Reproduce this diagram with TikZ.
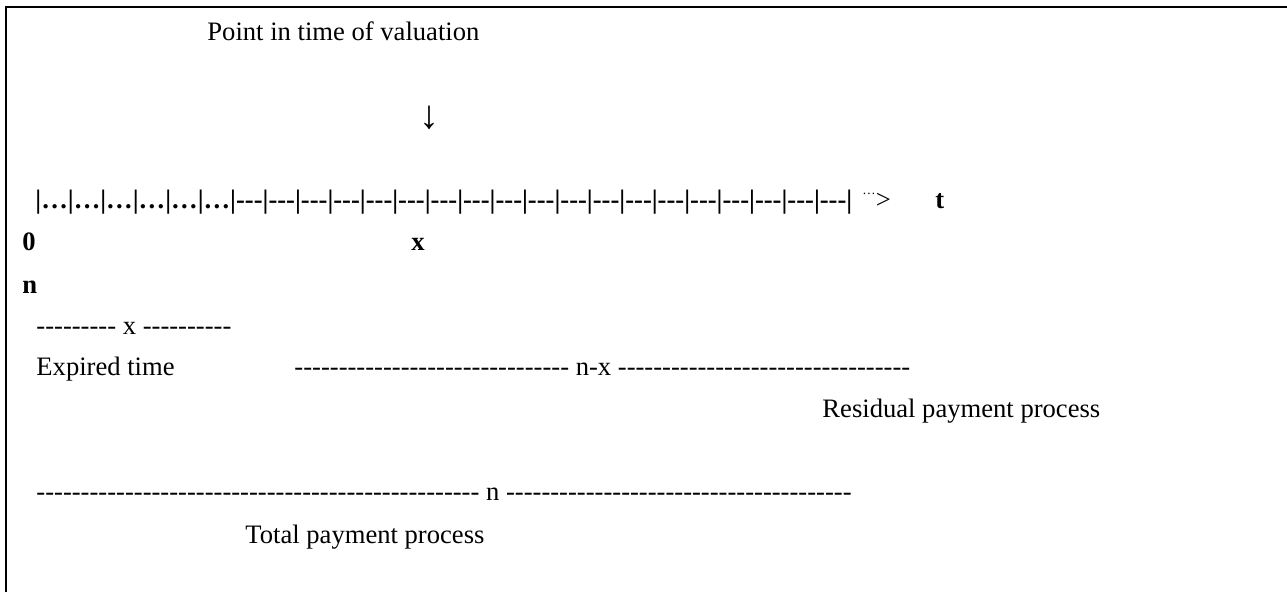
\documentclass[tikz,border=0pt]{standalone}
\usepackage{fontspec}
\setmainfont{Liberation Serif}[Ligatures=TeXOff]
\newcommand\hyphenrun[1]{\foreach \hh in {1,...,#1}{-}}
\begin{document}
\begin{tikzpicture}[x=0.451pt,y=-0.451pt,
  txt/.style={inner sep=0pt, anchor=base west, font=\fontsize{12}{14}\selectfont},
  bld/.style={inner sep=0pt, anchor=base west, font=\fontsize{12}{14}\selectfont\bfseries},
  frame/.style={line width=0.9pt}]
\useasboundingbox (0,0) rectangle (1287,592);
\draw[frame] (6,592) -- (6,7) -- (1287,7);
\node[txt] (valuation) at (207,40) {Point in time of valuation};
\node[inner sep=0pt, font=\fontsize{18}{20}\selectfont] (arrow) at (429,118) {↓};
\node[bld] (axis) at (35,208) {|…|…|…|…|…|…|---|---|---|---|---|---|---|---|---|---|---|---|---|---|---|---|---|---|---|};
\node[txt] (more) at (862,208) {\raisebox{6.3pt}{\fontsize{6}{7}\selectfont …}>};
\node[bld] (t) at (935,208) {t};
\node[bld] (zero) at (22,250) {0};
\node[bld] (xmark) at (411,250) {x};
\node[bld] (nmark) at (22,293) {n};
\node[txt] (xspan) at (36,334) {\hyphenrun{9} x \hyphenrun{10}};
\node[txt] (expired) at (36,375) {Expired time};
\node[txt] (nxspan) at (294,375) {\hyphenrun{31} n-x \hyphenrun{33}};
\node[txt] (residual) at (822,417) {Residual payment process};
\node[txt] (nspan) at (36,500) {\hyphenrun{50} n \hyphenrun{39}};
\node[txt] (total) at (245,543) {Total payment process};
\end{tikzpicture}
\end{document}
